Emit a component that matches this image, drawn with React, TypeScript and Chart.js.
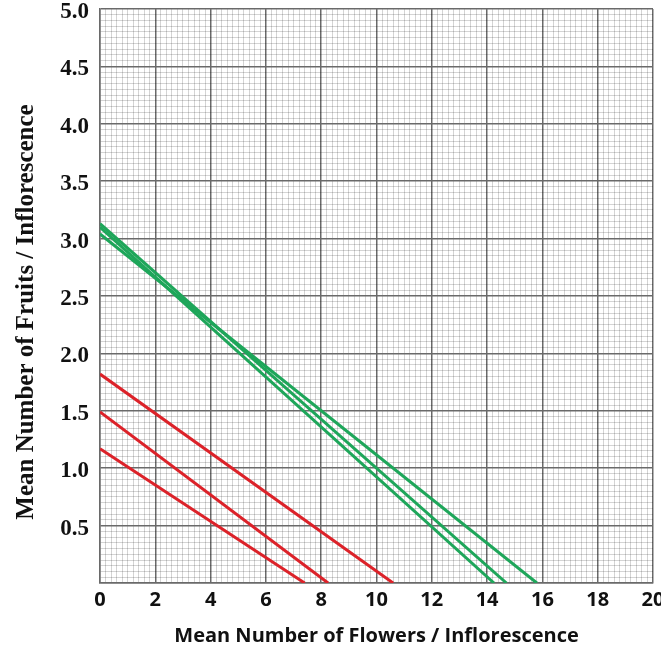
import React, { useEffect, useRef } from "react";
import { Chart, registerables } from "chart.js";

Chart.register(...registerables);

// Axis ranges and tick settings
const xMin = 0;
const xMax = 20;
const xMinorStep = 0.2;
const xMajorStep = 2;
const yMin = 0;
const yMax = 5;
const yMinorStep = 0.05;
const yMajorStep = 0.5;

// Series (start at x = 0, end on the x axis)
const red1X = [0, 10.6];
const red1Y = [1.82, 0];
const red2X = [0, 8.25];
const red2Y = [1.49, 0];
const red3X = [0, 7.4];
const red3Y = [1.17, 0];
const green1X = [0, 15.8];
const green1Y = [3.04, 0];
const green2X = [0, 14.7];
const green2Y = [3.13, 0];
const green3X = [0, 14.25];
const green3Y = [3.1, 0];

const xTitle = "Mean Number of Flowers / Inflorescence";
const yTitle = "Mean Number of Fruits / Inflorescence";

const RED = "#dc2229";
const GREEN = "#1ea65a";
const MAJOR = "#6a6a6a";
const MINOR = "rgba(0,0,0,0.17)";

const isMultiple = (v: number, step: number) =>
  Math.abs(v / step - Math.round(v / step)) < 1e-6;

const pts = (xs: number[], ys: number[]) => xs.map((x, i) => ({ x, y: ys[i] }));

export default function App() {
  const ref = useRef<HTMLCanvasElement | null>(null);

  useEffect(() => {
    if (!ref.current) return;

    const titlePlugin = {
      id: "titles",
      afterDraw(chart: any) {
        const ctx = chart.ctx;
        const area = chart.chartArea;
        ctx.save();
        ctx.fillStyle = "#111";
        ctx.textAlign = "center";
        ctx.textBaseline = "middle";
        ctx.font = "bold 20px 'Open Sans'";
        ctx.fillText(xTitle, (area.left + area.right) / 2, 636);
        ctx.translate(27, 312);
        ctx.rotate(-Math.PI / 2);
        ctx.font = "bold 25px 'Liberation Serif'";
        ctx.fillText(yTitle, 0, 0);
        ctx.restore();
      },
    };

    const mk = (xs: number[], ys: number[], color: string) => ({
      data: pts(xs, ys),
      borderColor: color,
      backgroundColor: color,
      borderWidth: 3,
      pointRadius: 0,
      fill: false,
      tension: 0,
    });

    const chart = new Chart(ref.current, {
      type: "line",
      data: {
        datasets: [
          mk(red1X, red1Y, RED),
          mk(red2X, red2Y, RED),
          mk(red3X, red3Y, RED),
          mk(green1X, green1Y, GREEN),
          mk(green2X, green2Y, GREEN),
          mk(green3X, green3Y, GREEN),
        ] as any,
      },
      options: {
        animation: false,
        responsive: true,
        maintainAspectRatio: false,
        layout: { padding: { top: 9, right: 8, left: 0, bottom: 0 } },
        plugins: { legend: { display: false }, tooltip: { enabled: false } },
        scales: {
          x: {
            type: "linear",
            min: xMin,
            max: xMax,
            afterFit(scale: any) {
              scale.height = 69;
              scale.paddingLeft = 0;
              scale.paddingRight = 0;
            },
            ticks: {
              stepSize: xMinorStep,
              autoSkip: false,
              maxRotation: 0,
              padding: 7,
              color: "#111",
              font: { family: "'Open Sans'", size: 20, weight: "bold", lineHeight: 1 },
              callback: (v: any) => (isMultiple(Number(v), xMajorStep) ? String(Math.round(Number(v))) : ""),
            },
            grid: {
              drawTicks: false,
              color: (c: any) => (c.tick && isMultiple(c.tick.value, xMajorStep) ? MAJOR : MINOR),
              lineWidth: (c: any) => (c.tick && isMultiple(c.tick.value, xMajorStep) ? 1.5 : 1),
            },
            border: { color: MAJOR, width: 1.5 },
          },
          y: {
            type: "linear",
            min: yMin,
            max: yMax,
            afterFit(scale: any) {
              scale.width = 100;
              scale.paddingTop = 0;
              scale.paddingBottom = 0;
            },
            ticks: {
              stepSize: yMinorStep,
              autoSkip: false,
              padding: 11,
              labelOffset: 3,
              color: "#111",
              font: { family: "'Liberation Serif'", size: 23, weight: "bold", lineHeight: 1 },
              callback: (v: any) => {
                const n = Number(v);
                return isMultiple(n, yMajorStep) && n > 0 ? n.toFixed(1) : "";
              },
            },
            grid: {
              drawTicks: false,
              color: (c: any) => (c.tick && isMultiple(c.tick.value, yMajorStep) ? MAJOR : MINOR),
              lineWidth: (c: any) => (c.tick && isMultiple(c.tick.value, yMajorStep) ? 1.5 : 1),
            },
            border: { color: MAJOR, width: 1.5 },
          },
        },
      } as any,
      plugins: [titlePlugin],
    });

    return () => chart.destroy();
  }, []);

  return (
    <div style={{ position: "absolute", left: 0, top: 0, width: 661, height: 652, background: "#fff" }}>
      <canvas ref={ref} />
    </div>
  );
}
